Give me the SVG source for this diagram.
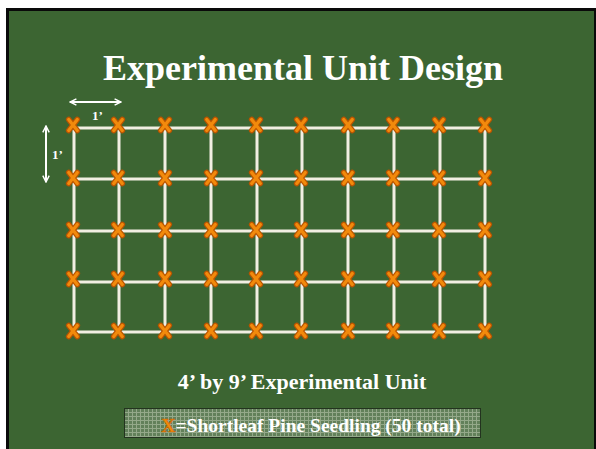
<svg xmlns="http://www.w3.org/2000/svg" xmlns:xlink="http://www.w3.org/1999/xlink" width="596" height="449" viewBox="0 0 596 449">
<style>
.title{font-family:"Liberation Serif","Times New Roman",serif;font-weight:bold;fill:#ffffff;text-anchor:middle}
.grid{stroke:#f1eee2;stroke-width:3;stroke-linecap:square;fill:none}
.dim{stroke:#ffffff;stroke-width:2;fill:none}
.lab{font-family:"Liberation Serif","Times New Roman",serif;font-weight:bold;fill:#ffffff;font-size:13px}
</style>
<defs>
<symbol id="x" viewBox="-7 -8 14 16" width="14" height="16" overflow="visible">
<path d="M-4.3,-5.5 L4.3,5.5 M4.3,-5.5 L-4.3,5.5" stroke="#b95400" stroke-width="5.6" stroke-linecap="round"/>
<path d="M-4.3,-5.5 L4.3,5.5 M4.3,-5.5 L-4.3,5.5" stroke="#f28a0c" stroke-width="3.2" stroke-linecap="round"/>
</symbol>
<marker id="ah" viewBox="0 0 10 10" refX="9" refY="5" markerWidth="8" markerHeight="8" orient="auto-start-reverse" markerUnits="userSpaceOnUse">
<path d="M1,1 L9,5 L1,9" stroke="#ffffff" stroke-width="1.8" fill="none"/>
</marker>
<pattern id="dots" width="4" height="4" patternUnits="userSpaceOnUse">
<rect width="4" height="4" fill="#62805a"/>
<rect width="4" height="1" fill="#94a98a"/>
<rect width="1" height="4" fill="#94a98a"/>
</pattern>
</defs>
<rect width="596" height="449" fill="#ffffff"/>
<rect x="6" y="8" width="590" height="441" fill="#0a0a0a"/>
<rect x="9" y="11" width="585" height="438" fill="#3c6532"/>
<text class="title" x="303" y="80" font-size="36">Experimental Unit Design</text>
<g id="dimensions">
<line class="dim" x1="70" y1="102" x2="121" y2="102" marker-start="url(#ah)" marker-end="url(#ah)"/>
<text class="lab" x="92" y="120">1’</text>
<line class="dim" x1="46" y1="126" x2="46" y2="182" marker-start="url(#ah)" marker-end="url(#ah)"/>
<text class="lab" x="52" y="159">1’</text>
</g>
<g id="connectors">
<path class="grid" d="M73,128 H485 M73,179 H485 M73,231 H485 M73,282 H485 M73,332 H485"/>
<path class="grid" d="M74,125 V332 M119,125 V332 M165,125 V332 M211,125 V332 M257,125 V332 M302,125 V332 M348,125 V332 M394,125 V332 M440,125 V332 M485,125 V332"/>
</g>
<g id="seedlings">
<g id="r1"><use xlink:href="#x" x="66" y="117"/><use xlink:href="#x" x="111" y="117"/><use xlink:href="#x" x="158" y="117"/><use xlink:href="#x" x="204" y="117"/><use xlink:href="#x" x="249" y="117"/><use xlink:href="#x" x="294" y="117"/><use xlink:href="#x" x="341" y="117"/><use xlink:href="#x" x="386" y="117"/><use xlink:href="#x" x="432" y="117"/><use xlink:href="#x" x="478" y="117"/></g>
<g id="r2"><use xlink:href="#x" x="66" y="170"/><use xlink:href="#x" x="111" y="170"/><use xlink:href="#x" x="158" y="170"/><use xlink:href="#x" x="204" y="170"/><use xlink:href="#x" x="249" y="170"/><use xlink:href="#x" x="294" y="170"/><use xlink:href="#x" x="341" y="170"/><use xlink:href="#x" x="386" y="170"/><use xlink:href="#x" x="432" y="170"/><use xlink:href="#x" x="478" y="170"/></g>
<g id="r3"><use xlink:href="#x" x="66" y="222"/><use xlink:href="#x" x="111" y="222"/><use xlink:href="#x" x="158" y="222"/><use xlink:href="#x" x="204" y="222"/><use xlink:href="#x" x="249" y="222"/><use xlink:href="#x" x="294" y="222"/><use xlink:href="#x" x="341" y="222"/><use xlink:href="#x" x="386" y="222"/><use xlink:href="#x" x="432" y="222"/><use xlink:href="#x" x="478" y="222"/></g>
<g id="r4"><use xlink:href="#x" x="66" y="271"/><use xlink:href="#x" x="111" y="271"/><use xlink:href="#x" x="158" y="271"/><use xlink:href="#x" x="204" y="271"/><use xlink:href="#x" x="249" y="271"/><use xlink:href="#x" x="294" y="271"/><use xlink:href="#x" x="341" y="271"/><use xlink:href="#x" x="386" y="271"/><use xlink:href="#x" x="432" y="271"/><use xlink:href="#x" x="478" y="271"/></g>
<g id="r5"><use xlink:href="#x" x="66" y="323"/><use xlink:href="#x" x="111" y="323"/><use xlink:href="#x" x="158" y="323"/><use xlink:href="#x" x="204" y="323"/><use xlink:href="#x" x="249" y="323"/><use xlink:href="#x" x="294" y="323"/><use xlink:href="#x" x="341" y="323"/><use xlink:href="#x" x="386" y="323"/><use xlink:href="#x" x="432" y="323"/><use xlink:href="#x" x="478" y="323"/></g>
</g>
<text class="title" x="302" y="389" font-size="22">4’ by 9’ Experimental Unit</text>
<g id="legend">
<rect x="124.5" y="408.5" width="356" height="29" fill="url(#dots)" stroke="#23331f" stroke-width="1"/>
<text class="title" x="311" y="432" font-size="19.5"><tspan fill="#f28a0c" stroke="#c06000" stroke-width="0.5">X</tspan>=Shortleaf Pine Seedling (50 total)</text>
</g>
</svg>
